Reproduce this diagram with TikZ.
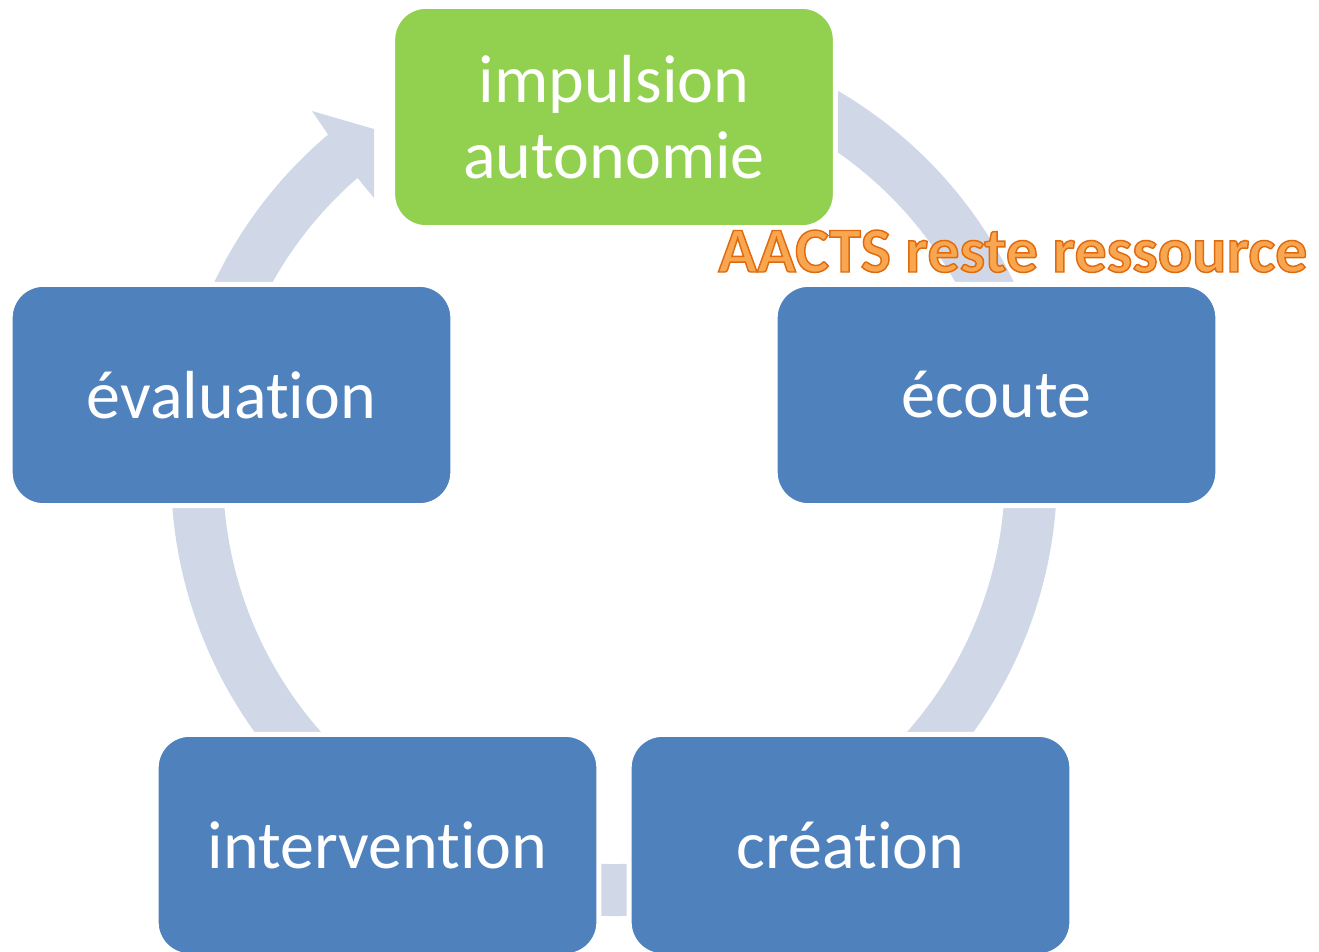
\documentclass[tikz,border=0pt]{standalone}
\usepackage{fontspec}
\setmainfont{Carlito}[Ligatures={NoCommon,NoContextual}]
\usepackage{xcolor}
\definecolor{phasegreen}{RGB}{146,208,80}
\definecolor{phaseblue}{RGB}{79,129,189}
\definecolor{ringgrey}{RGB}{208,216,232}
\definecolor{labelfill}{RGB}{249,166,80}

% outlined text: fill with the text colour, stroke in dark orange
\newcommand\strokedtext[1]{\special{pdf:literal direct 2 Tr 1.1 w 0.88 0.42 0.06 RG}#1\special{pdf:literal direct 0 Tr}}

\tikzset{
  phase/.style={draw=white, line width=3.75pt, rounded corners=25pt,
    minimum width=332pt, minimum height=166pt, inner sep=0pt,
    text=white, align=center, font=\fontsize{51}{57}\selectfont},
  aacts/.style={anchor=base west, inner sep=0pt, text=labelfill,
    font=\fontsize{48}{48}\bfseries\selectfont},
}

\begin{document}
\begin{tikzpicture}[x=0.75pt,y=0.75pt,yscale=-1,xscale=1]
        \useasboundingbox (0,0) rectangle (1319,951);
        \clip (0,0) rectangle (1319,951);

        %Shape: Circular Arrow
        \begin{scope}[shift={(614,473)}]
        \fill [ringgrey] (-59.6:443) arc [start angle=-59.6, end angle=229.8, radius=443] -- (-302,-362) -- (-240,-344) -- (-240,-275) -- (229:391) arc [start angle=229, end angle=-55.05, radius=391] -- cycle ;
        \end{scope}

        %Shape: Rounded Rectangle
        \node [phase, fill=phasegreen] (impulsion) at (614,117) {impulsion\\autonomie};
        %Shape: Rounded Rectangle
        \node [phase, fill=phaseblue] (ecoute) at (996.5,395) {écoute};
        %Shape: Rounded Rectangle
        \node [phase, fill=phaseblue] (creation) at (850.5,845) {création};
        %Shape: Rounded Rectangle
        \node [phase, fill=phaseblue] (intervention) at (377.5,845) {intervention};
        %Shape: Rounded Rectangle
        \node [phase, fill=phaseblue] (evaluation) at (231.5,395) {évaluation};

        % Text Node
        \node [aacts] (aacts) at (718,272) {\strokedtext{AACTS reste ressource}};

\end{tikzpicture}
\end{document}
